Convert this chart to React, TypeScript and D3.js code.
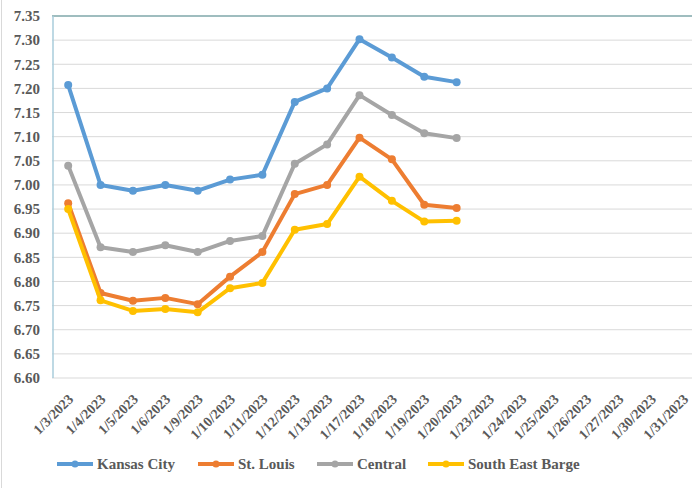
import * as d3 from 'd3';
import * as React from 'react';

const dates = [
  '1/3/2023', '1/4/2023', '1/5/2023', '1/6/2023', '1/9/2023', '1/10/2023',
  '1/11/2023', '1/12/2023', '1/13/2023', '1/17/2023', '1/18/2023', '1/19/2023',
  '1/20/2023', '1/23/2023', '1/24/2023', '1/25/2023', '1/26/2023', '1/27/2023',
  '1/30/2023', '1/31/2023',
];

const kansasCity = [7.207, 7.0, 6.988, 7.0, 6.988, 7.011, 7.021, 7.172, 7.2, 7.302, 7.264, 7.224, 7.213];
const stLouis = [6.962, 6.776, 6.76, 6.766, 6.753, 6.81, 6.861, 6.981, 7.0, 7.098, 7.053, 6.959, 6.952];
const central = [7.04, 6.871, 6.861, 6.875, 6.861, 6.884, 6.894, 7.044, 7.084, 7.186, 7.145, 7.107, 7.097];
const southEastBarge = [6.95, 6.761, 6.739, 6.743, 6.736, 6.786, 6.797, 6.907, 6.919, 7.017, 6.967, 6.924, 6.926];

const seriesNames = ['Kansas City', 'St. Louis', 'Central', 'South East Barge'];
const seriesColors = ['#5B9BD5', '#ED7D31', '#A5A5A5', '#FFC000'];
const yTicks = d3.range(0, 16).map((i) => +(6.6 + i * 0.05).toFixed(2));

const width = 692;
const height = 488;
const textStyle: React.CSSProperties = {
  fontFamily:
    "'Liberation Serif', Tinos, 'Noto Serif', 'DejaVu Serif', FreeSerif, 'Times New Roman', Times, serif",
  fontWeight: 'bold',
  fill: '#595959',
};

export default function App() {
  const series = [kansasCity, stLouis, central, southEastBarge];

  const x = d3.scalePoint<string>().domain(dates).range([52, 699.4]).padding(0.5);
  const y = d3.scaleLinear().domain([6.6, 7.35]).range([378, 16]);

  const line = d3
    .line<number>()
    .x((_, i) => x(dates[i]) as number)
    .y((d) => y(d));

  const legendX = [57, 198, 317, 428];

  return (
    <div style={{ position: 'absolute', left: 0, top: 0 }}>
      <svg width={width} height={height} style={{ display: 'block', background: '#fff' }}>
        <line x1={1.5} x2={1.5} y1={0} y2={height} stroke="#D9D9D9" />
        {yTicks.map((t) => (
          <g key={t}>
            <line x1={52} x2={width} y1={y(t)} y2={y(t)} stroke="#D9D9D9" strokeWidth={1} />
            <text x={40} y={y(t)} dy="0.35em" textAnchor="end" fontSize={15} style={textStyle}>
              {t.toFixed(2)}
            </text>
          </g>
        ))}
        <line x1={52} x2={width} y1={y(7.35)} y2={y(7.35)} stroke="#86AEB0" strokeWidth={1.5} />
        <line x1={53} x2={53} y1={y(7.35)} y2={y(6.6)} stroke="#A9CCDB" strokeWidth={1.5} />

        {dates.map((d) => (
          <text
            key={d}
            transform={`translate(${(x(d) as number) + 6},${400}) rotate(-45)`}
            textAnchor="end"
            fontSize={14}
            style={textStyle}
          >
            {d}
          </text>
        ))}

        {series.map((s, si) => (
          <g key={seriesNames[si]}>
            <path
              d={line(s) ?? ''}
              fill="none"
              stroke={seriesColors[si]}
              strokeWidth={4}
              strokeLinejoin="round"
            />
            {s.map((v, i) => (
              <circle key={i} cx={x(dates[i])} cy={y(v)} r={4} fill={seriesColors[si]} />
            ))}
          </g>
        ))}

        {seriesNames.map((n, i) => (
          <g key={n} transform={`translate(${legendX[i]},464)`}>
            <line x1={0} x2={36} y1={0} y2={0} stroke={seriesColors[i]} strokeWidth={4} />
            <circle cx={18} cy={0} r={3.5} fill={seriesColors[i]} />
            <text x={40} y={5} fontSize={15} style={textStyle}>
              {n}
            </text>
          </g>
        ))}
      </svg>
    </div>
  );
}
